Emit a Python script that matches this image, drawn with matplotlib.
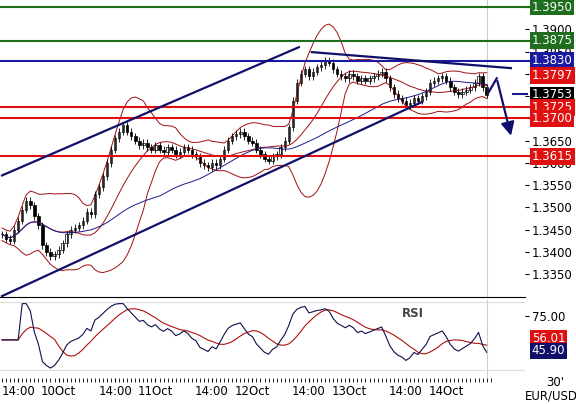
import numpy as np
import pandas as pd
import matplotlib
matplotlib.use("Agg")
import matplotlib.pyplot as plt
from matplotlib.transforms import blended_transform_factory

# hourly closes, EUR/USD, starting 9 Oct 10:00
closes = [1.3440, 1.3430, 1.3425, 1.3450, 1.3470, 1.3495, 1.3515, 1.3505, 1.3480, 1.3460,
          1.3415, 1.3400, 1.3390, 1.3395, 1.3405, 1.3420, 1.3440, 1.3450, 1.3455, 1.3460,
          1.3470, 1.3490, 1.3485, 1.3530, 1.3545, 1.3570, 1.3600, 1.3630, 1.3655, 1.3670,
          1.3685, 1.3670, 1.3660, 1.3650, 1.3640, 1.3645, 1.3635, 1.3630, 1.3640, 1.3630,
          1.3625, 1.3635, 1.3630, 1.3620, 1.3625, 1.3635, 1.3630, 1.3620, 1.3615, 1.3600,
          1.3595, 1.3590, 1.3600, 1.3595, 1.3610, 1.3630, 1.3650, 1.3660, 1.3665, 1.3670,
          1.3660, 1.3650, 1.3645, 1.3630, 1.3620, 1.3610, 1.3605, 1.3615, 1.3620, 1.3635,
          1.3650, 1.3680, 1.3740, 1.3780, 1.3800, 1.3810, 1.3795, 1.3805, 1.3815, 1.3820,
          1.3830, 1.3825, 1.3810, 1.3800, 1.3795, 1.3790, 1.3800, 1.3795, 1.3785, 1.3790,
          1.3785, 1.3790, 1.3795, 1.3800, 1.3805, 1.3790, 1.3770, 1.3755, 1.3745, 1.3740,
          1.3730, 1.3735, 1.3745, 1.3740, 1.3750, 1.3760, 1.3780, 1.3785, 1.3790, 1.3795,
          1.3785, 1.3770, 1.3760, 1.3755, 1.3760, 1.3765, 1.3770, 1.3780, 1.3795, 1.3770,
          1.3753]
wick = 0.0008

# levels (price, colour, draw line)
levels = [(1.3950, '#1e6e1e', True), (1.3875, '#1e6e1e', True), (1.3830, '#1a1aa0', True),
          (1.3797, '#e01010', False), (1.3753, '#000000', False),
          (1.3725, '#e01010', True), (1.3700, '#e01010', True), (1.3615, '#e01010', True)]

# trend lines (hour index, price)
chan_lower = [(0, 1.3301), (104, 1.3737)]
chan_upper = [(0, 1.3572), (73.5, 1.3860)]
resist = [(76.7, 1.3849), (126, 1.3813)]
forecast = [(120.5, 1.3759), (122.5, 1.3790), (126.2, 1.3655)]

day_ticks = [14, 38, 62, 86, 110]
day_names = ['10Oct', '11Oct', '12Oct', '13Oct', '14Oct']

c = pd.Series(closes)
x = np.arange(len(c))
o = c.shift(1).fillna(c.iloc[0])
mid = c.rolling(14, min_periods=1).mean()
sd = c.rolling(14, min_periods=2).std().bfill()
ma_long = c.rolling(40, min_periods=1).mean()
d = c.diff().fillna(0)
up = d.clip(lower=0).ewm(alpha=1 / 14).mean()
dn = (-d.clip(upper=0)).ewm(alpha=1 / 14).mean()
rsi = (100 - 100 / (1 + up / (dn + 1e-9))).clip(28, 85)
rsi.iloc[:5] = 55
rsi_sig = rsi.rolling(9, min_periods=1).mean()

W, H = 576, 404
fig = plt.figure(figsize=(5.76, 4.04), dpi=100)
ax = fig.add_axes([0, 1 - 297 / H, 525 / W, 297 / H])
ax2 = fig.add_axes([0, 1 - 378 / H, 525 / W, 78 / H])
xlim = (-0.5, 129.5)

for a in (ax, ax2):
    a.set_xlim(*xlim)
    for s in ('top', 'left', 'right'):
        a.spines[s].set_visible(False)
    a.axvline(120, color='#cccccc', lw=0.8)
    a.yaxis.tick_right()
    a.tick_params(axis='y', labelsize=8.5, length=3, pad=2)

ax.set_ylim(1.3299, 1.3966)
ax.set_yticks(np.arange(1.3350, 1.3951, 0.005))
ax.set_yticklabels([f"{v:.4f}" for v in np.arange(1.3350, 1.3951, 0.005)])
ax.set_xticks([])
ax.spines['bottom'].set_color('black')

# bands and averages
ax.plot(x, mid + 2 * sd, color='#a01010', lw=0.7)
ax.plot(x, mid - 2 * sd, color='#a01010', lw=0.7)
ax.plot(x, mid, color='#a01010', lw=0.7)
ax.plot(x, ma_long, color='#1a1a90', lw=0.7)

# candles
for i in range(len(c)):
    oo, cc = o[i], c[i]
    ax.vlines(i, min(oo, cc) - wick, max(oo, cc) + wick, color='black', lw=0.6)
    ax.bar(i, max(abs(cc - oo), 0.00008), bottom=min(oo, cc), width=0.6,
           color='white' if cc >= oo else 'black', edgecolor='black', lw=0.5)

tr = blended_transform_factory(ax.transAxes, ax.transData)
for p, col, line in levels:
    if line:
        ax.axhline(p, color=col, lw=1.5, xmax=1.02, clip_on=False)
    ax.text(1.013, p, f"{p:.4f}", transform=tr, color='white', fontsize=8.5,
            va='center', ha='left', zorder=5,
            bbox=dict(boxstyle='square,pad=0.15', fc=col, ec='none'))
ax.plot([126.5, 130], [1.3755, 1.3755], color='#1a1a90', lw=1.5, clip_on=False)

for ln in (chan_lower, chan_upper, resist):
    ax.plot(*zip(*ln), color='#10106a', lw=1.6)
fx, fy = zip(*forecast)
ax.plot(fx[:2], fy[:2], color='#10106a', lw=1.6)
ax.annotate('', xy=(fx[2], fy[2]), xytext=(fx[1], fy[1]),
            arrowprops=dict(arrowstyle='-|>,head_width=0.4,head_length=0.8',
                            color='#10106a', lw=1.6))

# RSI panel
ax2.set_ylim(23.5, 88)
ax2.set_yticks([75])
ax2.set_yticklabels(['75.00'])
ax2.spines['bottom'].set_visible(False)
ax2.axhline(86, color='#dddddd', lw=0.8)
ax2.axhline(30.5, color='#dddddd', lw=0.8)
ax2.plot(x, rsi_sig, color='#b01010', lw=0.8)
ax2.plot(x, rsi, color='#10104a', lw=0.8)
ax2.text(99, 74, 'RSI', color='#444444', fontsize=8.5, fontweight='bold')
tr2 = blended_transform_factory(ax2.transAxes, ax2.transData)
for v, col in ((56.01, '#e01010'), (45.90, '#10106a')):
    ax2.text(1.013, v, f"{v:.2f}", transform=tr2, color='white', fontsize=8.5,
             va='center', ha='left',
             bbox=dict(boxstyle='square,pad=0.15', fc=col, ec='none'))

ticks = sorted(day_ticks + [t - 10 for t in day_ticks])
labels = []
for n in day_names:
    labels += ['14:00', n]
ax2.set_xticks(ticks)
ax2.set_xticklabels(labels, fontsize=8.5)
ax2.set_xticks(np.arange(0, 122, 1), minor=True)
ax2.tick_params(axis='x', which='both', length=3, pad=2)
fig.text(555 / W, 1 - 383 / H, "30'", fontsize=8.5, ha='center', va='center')
fig.text(551 / W, 1 - 396 / H, "EUR/USD", fontsize=8.5, ha='center', va='center')

fig.savefig('out.png', dpi=100)
